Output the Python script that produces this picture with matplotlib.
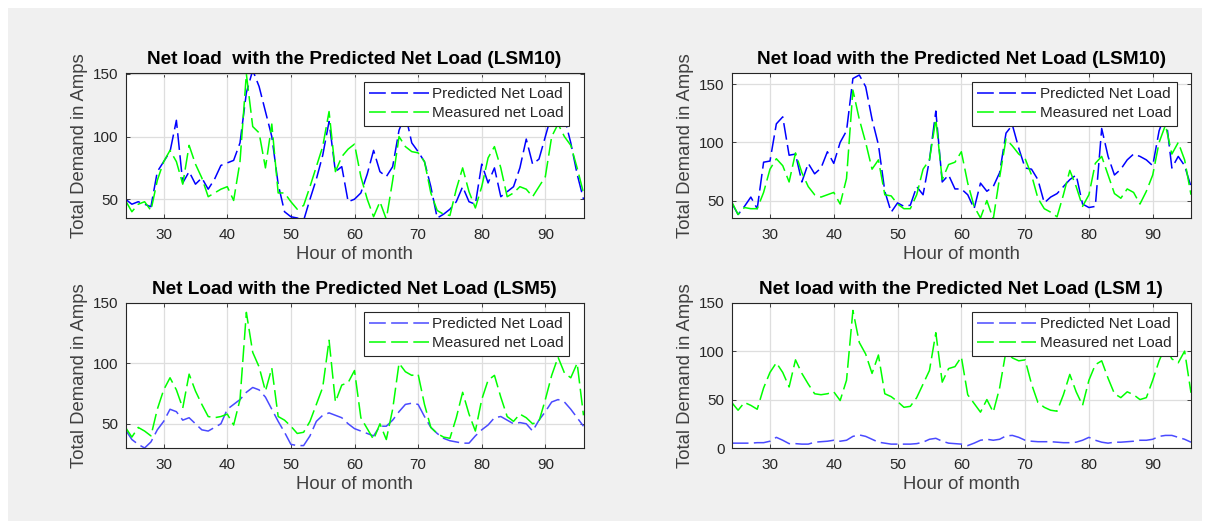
import numpy as np
import matplotlib
matplotlib.use("Agg")
import matplotlib.pyplot as plt
from matplotlib.patches import Rectangle

plt.rcParams['font.family'] = ['Liberation Sans', 'DejaVu Sans']

hours = np.arange(24, 97)

# LSM10 (first run)
pred_lsm10_a = [50, 46, 48, 46, 44, 72, 80, 88, 113, 63, 72, 62, 67, 58, 66, 77, 79, 81, 95, 135,
                153, 140, 120, 100, 62, 40, 36, 35, 33, 50, 66, 85, 112, 72, 76, 48, 50, 55, 70, 89,
                72, 68, 76, 105, 118, 95, 88, 80, 60, 35, 38, 42, 48, 60, 48, 46, 78, 63, 75, 52,
                56, 60, 75, 98, 78, 82, 100, 118, 143, 115, 95, 70, 50]
meas_lsm10_a = [49, 40, 46, 48, 41, 65, 80, 89, 80, 62, 93, 78, 67, 52, 55, 58, 60, 49, 80, 150,
                108, 103, 75, 110, 55, 55, 48, 42, 45, 60, 76, 92, 120, 72, 84, 90, 94, 68, 50, 36,
                48, 34, 65, 100, 92, 88, 87, 80, 55, 41, 38, 37, 58, 75, 56, 43, 60, 83, 92, 75,
                52, 55, 60, 58, 52, 60, 68, 100, 110, 100, 93, 75, 55]

# LSM10 (second run)
pred_lsm10_b = [48, 38, 45, 53, 43, 83, 84, 116, 122, 89, 90, 66, 82, 73, 78, 92, 82, 100, 110, 155,
                158, 148, 120, 98, 58, 40, 48, 45, 46, 62, 55, 85, 127, 66, 72, 60, 60, 55, 43, 65,
                58, 62, 74, 108, 115, 95, 78, 77, 68, 48, 53, 56, 62, 68, 72, 47, 44, 45, 112, 88,
                72, 77, 85, 90, 88, 85, 80, 110, 125, 78, 88, 80, 62]
meas_lsm10_b = [49, 38, 44, 43, 43, 57, 77, 86, 80, 66, 91, 74, 62, 55, 53, 55, 57, 47, 69, 145,
                120, 100, 77, 85, 55, 54, 47, 43, 43, 55, 77, 85, 120, 68, 81, 83, 92, 65, 45, 35,
                50, 34, 70, 103, 97, 90, 86, 72, 52, 43, 40, 36, 55, 76, 62, 45, 55, 82, 88, 72,
                56, 52, 60, 57, 47, 58, 72, 100, 115, 90, 100, 85, 55]

# LSM5 and LSM 1 (same measured series)
pred_lsm5 = [45, 37, 33, 30, 35, 45, 52, 62, 60, 53, 55, 50, 45, 44, 47, 50, 62, 66, 70, 76,
             80, 78, 72, 62, 52, 43, 33, 32, 32, 40, 52, 57, 59, 57, 55, 50, 46, 44, 42, 40,
             48, 48, 53, 60, 66, 67, 66, 56, 47, 42, 38, 36, 35, 34, 34, 40, 45, 49, 55, 56,
             53, 50, 51, 50, 44, 53, 60, 68, 70, 68, 62, 55, 48]
pred_lsm1 = [5, 5, 5, 5, 5.5, 5.5, 7, 11, 8, 4.5, 4.5, 4, 4, 6, 6.5, 7, 8, 7, 8, 12,
             13.5, 12, 9, 6, 5, 4, 4, 4, 4, 4.5, 6, 9, 10, 7, 5, 4.5, 4, 2.5, 5, 8,
             9, 8, 9, 12.5, 13, 11, 8, 7, 6.5, 6.5, 6.5, 6, 5.5, 5.5, 6, 8, 11, 8, 6, 5,
             6, 6, 6.5, 7, 8, 8, 9, 12, 13, 13, 11, 9, 6]
meas_lsm1 = [47, 39, 47, 44, 40, 62, 78, 88, 78, 63, 91, 77, 66, 56, 55, 56, 58, 49, 70, 142,
             109, 97, 77, 96, 56, 53, 48, 42, 43, 52, 66, 80, 119, 68, 82, 84, 94, 55, 46, 37,
             50, 37, 62, 100, 93, 90, 91, 66, 47, 42, 39, 38, 55, 76, 58, 44, 70, 86, 90, 72,
             56, 52, 58, 55, 50, 52, 70, 90, 105, 92, 88, 100, 57]

panels = [
    ("Net load  with the Predicted Net Load (LSM10)", pred_lsm10_a, meas_lsm10_a, (35, 151), [50, 100, 150], '#0000ff'),
    ("Net load with the Predicted Net Load (LSM10)", pred_lsm10_b, meas_lsm10_b, (35, 160), [50, 100, 150], '#0000ff'),
    ("Net Load with the Predicted Net Load (LSM5)", pred_lsm5, meas_lsm1, (30, 149), [50, 100, 150], '#4a4aff'),
    ("Net load with the Predicted Net Load (LSM 1)", pred_lsm1, meas_lsm1, (0, 150), [0, 50, 100, 150], '#4a4aff'),
]

W, H = 1210, 529
fig = plt.figure(figsize=(W / 100, H / 100), dpi=100)
fig.patch.set_facecolor('white')
fig.patches.append(Rectangle((8 / W, 8 / H), 1 - 16 / W, 1 - 16 / H, transform=fig.transFigure,
                             facecolor='#f0f0f0', edgecolor='none', zorder=-10))

# axes boxes in pixels: left, top, right, bottom
boxes = [(125.5, 72.7, 583.5, 218), (731.7, 72.7, 1191, 218),
         (125.5, 302.7, 583.5, 448), (731.7, 302.7, 1191, 448)]

dark = '#262626'
for (title, pred, meas, ylim, yt, bcol), (l, t, r, b) in zip(panels, boxes):
    ax = fig.add_axes([l / W, 1 - b / H, (r - l) / W, (b - t) / H])
    ax.plot(hours, pred, color=bcol, lw=1.1, linestyle=(0, (11, 3.5)), label='Predicted Net Load')
    ax.plot(hours, meas, color='#00ff00', lw=1.1, linestyle=(0, (11, 3.5)), label='Measured net Load')
    ax.set_xlim(24, 96)
    ax.set_ylim(*ylim)
    ax.set_xticks([30, 40, 50, 60, 70, 80, 90])
    ax.set_yticks(yt)
    ax.grid(True, color='#dedede', lw=0.9)
    ax.set_axisbelow(True)
    ax.tick_params(direction='in', length=3, width=0.6, colors=dark, labelsize=11,
                   top=True, right=True)
    ax.tick_params(axis='x', pad=7)
    ax.tick_params(axis='y', pad=5)
    for s in ax.spines.values():
        s.set_color(dark)
        s.set_linewidth(0.8)
    ax.set_title(title, fontsize=13.7, fontweight='bold', color='black', pad=6)
    ax.set_xlabel('Hour of month', fontsize=13.3, color='#404040', labelpad=3)
    ax.set_ylabel('Total Demand in Amps', fontsize=13.3, color='#404040', labelpad=4)
    leg = ax.legend(loc='upper right', bbox_to_anchor=(1 - 14.5 / (r - l), 1 - 9 / (b - t)),
                    borderaxespad=0, fontsize=11, handlelength=3.9, handletextpad=0.2,
                    labelspacing=0.35, borderpad=0.35, fancybox=False, framealpha=1,
                    edgecolor=dark)
    leg.get_frame().set_linewidth(0.8)
    for txt in leg.get_texts():
        txt.set_color(dark)

fig.savefig('out.png', dpi=100, facecolor=fig.get_facecolor())
